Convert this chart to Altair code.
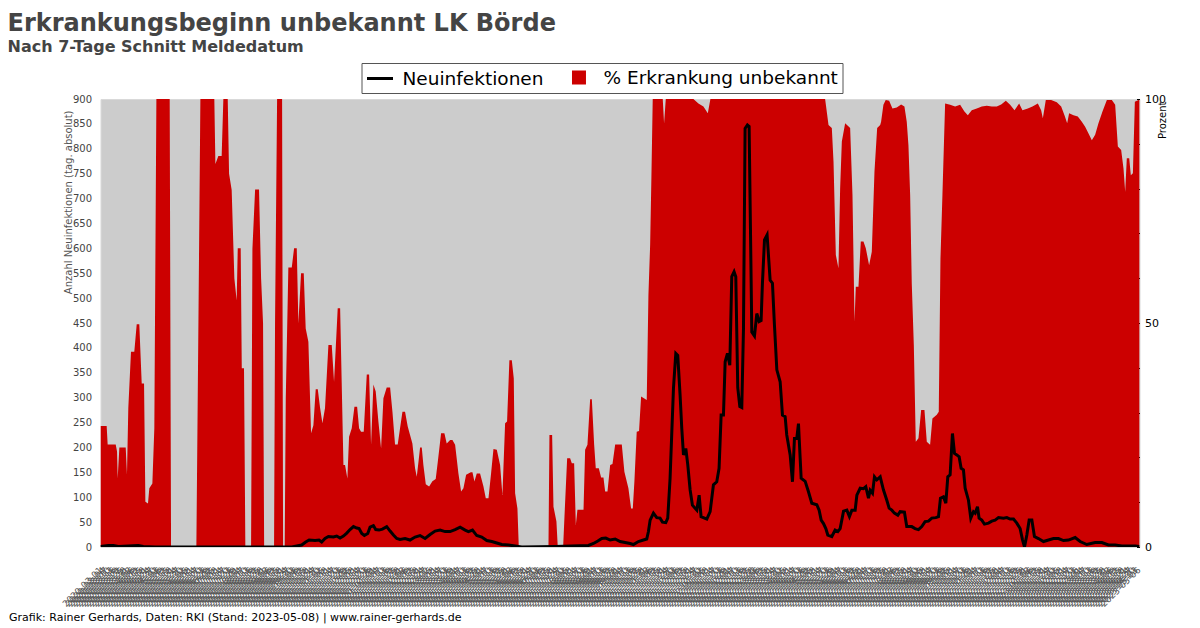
import altair as alt
import pandas as pd

START = "2020-03-01"
END = "2023-05-07"

# % Erkrankungsbeginn unbekannt (right axis), day offset from START
red_day = [0, 1.3, 6.9, 8.0, 17.0, 18.5, 19.2, 21.1, 28.2, 29.6, 31.1, 34.1, 37.8, 40.5, 43.4, 46.1, 48.7,
           50.2, 53.1, 54.6, 58.0, 60.2, 62.5, 77.4, 78.9, 107.2, 109.5, 111.7, 127.3, 128.5, 131.8, 135.5,
           137.4, 142.3, 143.8, 146.7, 149.7, 152.3, 153.5, 156.8, 158.0, 160.5, 162.0, 168.4, 169.9, 172.9,
           177.3, 179.6, 181.8, 183.0, 194.1, 195.2, 197.5, 203.1, 204.2, 206.0, 207.2, 210.1, 213.9, 216.5,
           219.5, 221.3, 224.3, 227.3, 229.5, 232.5, 235.5, 238.1, 240.7, 243.0, 245.6, 248.2, 251.1, 254.9,
           258.6, 261.2, 265.3, 268.0, 271.7, 273.5, 276.1, 278.0, 281.0, 284.0, 287.0, 289.2, 291.4, 294.4,
           297.8, 300.4, 302.6, 305.2, 307.8, 310.8, 313.8, 316.4, 320.1, 323.9, 326.5, 329.4, 332.4, 335.0,
           337.7, 340.6, 343.6, 346.2, 348.8, 351.8, 353.7, 355.6, 357.4, 359.3, 361.1, 363.8, 367.5, 371.2,
           374.9, 377.2, 380.9, 384.6, 387.2, 391.0, 393.6, 396.6, 400.3, 403.3, 405.9, 408.9, 414.1, 416.0,
           418.2, 420.8, 424.5, 428.3, 430.9, 433.9, 436.8, 439.5, 443.2, 446.9, 449.5, 452.5, 454.7, 457.3,
           460.0, 462.2, 463.7, 466.3, 467.8, 501.0, 502.1, 505.1, 506.6, 509.9, 511.4, 517.4, 518.9, 521.9,
           525.2, 527.1, 529.7, 531.6, 533.4, 540.2, 542.0, 544.6, 547.6, 549.5, 552.1, 553.9, 557.3, 559.9,
           562.5, 564.4, 567.0, 570.0, 572.6, 575.6, 583.0, 585.9, 590.4, 593.4, 595.3, 597.1, 599.7, 602.3,
           604.6, 610.9, 612.8, 614.7, 616.1, 617.6, 628.8, 630.3, 632.2, 663.1, 668.7, 674.3, 679.2, 682.1,
           810.4, 814.2, 817.9, 819.8, 822.4, 825.3, 827.2, 829.1, 832.8, 838.4, 841.0, 843.3, 844.7, 847.7,
           850.3, 853.3, 855.9, 859.6, 862.6, 865.6, 868.6, 872.0, 873.0, 875.6, 878.2, 882.0, 885.7, 890.5,
           895.4, 899.1, 901.7, 903.6, 905.5, 907.3, 909.6, 911.8, 914.8, 917.8, 921.5, 924.1, 927.8, 930.4,
           935.3, 937.5, 939.4, 941.6, 944.6, 950.2, 955.8, 961.4, 966.2, 970.0, 974.4, 980.0, 985.6, 991.2,
           996.8, 1002.4, 1007.3, 1012.5, 1017.3, 1022.2, 1027.4, 1031.1, 1037.1, 1042.3, 1048.3, 1052.0,
           1053.9, 1057.2, 1063.2, 1069.5, 1074.4, 1078.1, 1081.1, 1083.3, 1088.2, 1093.0, 1097.5, 1101.2,
           1105.0, 1108.7, 1112.4, 1116.1, 1120.6, 1125.5, 1131.1, 1134.8, 1137.8, 1141.5, 1144.1, 1146.0,
           1147.8, 1150.5, 1152.3, 1154.6, 1156.8, 1160.9, 1162.2]
red_pct = [27.0, 27.0, 27.0, 22.9, 22.9, 21.3, 15.3, 22.2, 22.2, 16.1, 31.0, 43.6, 43.6, 49.7, 49.7, 36.5, 36.5,
           10.1, 9.7, 13.1, 14.2, 26.5, 100, 100, 0, 0, 49.9, 100, 100, 85.5, 87.3, 87.3,
           100, 100, 83.3, 79.7, 60.0, 55.0, 66.7, 66.7, 39.9, 39.9, 0, 0, 66.5, 79.8,
           79.8, 60.0, 49.9, 0, 0, 49.9, 100, 100, 0, 0, 33.2, 62.4, 62.4, 66.7,
           66.7, 49.9, 61.1, 61.1, 48.8, 45.8, 25.4, 27.2, 35.2, 35.2, 31.0, 27.6, 31.0, 45.1,
           45.1, 36.9, 53.3, 53.3, 18.3, 18.3, 15.3, 24.6, 26.5, 31.3, 31.3, 26.5, 25.7, 25.7,
           38.5, 38.5, 22.8, 36.3, 34.7, 28.0, 22.0, 33.2, 35.6, 35.6, 30.2, 22.9, 22.9, 26.5,
           30.2, 30.2, 26.9, 25.0, 23.1, 17.6, 15.7, 19.0, 22.2, 22.2, 18.3, 14.0, 13.5, 14.7,
           15.2, 19.0, 25.4, 25.4, 23.1, 23.9, 23.9, 22.8, 16.4, 12.4, 13.1, 16.1, 16.7, 16.7,
           14.6, 16.4, 16.4, 13.5, 10.9, 10.9, 16.4, 21.9, 21.7, 18.3, 11.6, 27.6, 28.0, 41.7,
           41.7, 37.6, 12.0, 8.6, 0, 0, 25.0, 25.0, 9.0, 5.7, 0, 0, 6.8, 19.8,
           19.8, 18.7, 18.7, 4.9, 8.3, 8.3, 21.7, 22.8, 33.0, 33.0, 22.8, 17.6, 17.6, 15.5,
           15.5, 12.4, 12.4, 18.3, 18.5, 22.9, 22.9, 16.8, 13.1, 8.6, 8.6, 14.6, 25.7, 25.9,
           33.6, 32.8, 56.3, 67.4, 82.3, 100, 100, 94.6, 100, 100, 99.0, 98.3, 96.8, 100,
           100, 94.2, 93.5, 86.0, 65.2, 62.2, 80.1, 90.5, 94.6, 93.5, 78.6, 50.3, 58.1, 58.1,
           68.2, 68.2, 66.7, 62.9, 65.9, 83.8, 93.5, 94.2, 94.9, 98.7, 99.8, 99.6, 97.9, 98.1,
           98.8, 98.3, 94.9, 89.7, 78.6, 58.9, 45.1, 23.5, 24.3, 30.6, 30.6, 23.5, 22.8, 28.7,
           29.5, 30.2, 64.4, 78.6, 99.0, 98.7, 98.3, 98.7, 97.2, 96.4, 97.5, 97.9, 98.3, 98.5,
           98.3, 98.3, 98.8, 99.6, 98.7, 97.5, 99.0, 97.5, 97.9, 98.3, 99.0, 97.5,
           95.7, 99.8, 99.8, 99.3, 98.3, 96.4, 94.6, 96.8, 96.4, 96.1, 94.9, 93.8,
           92.3, 90.8, 92.0, 94.6, 97.2, 99.8, 99.8, 98.7, 89.4, 88.6, 84.5, 79.3,
           86.8, 86.8, 83.0, 83.4, 99.4, 99.8, 99.8]

# Neuinfektionen (left axis), day offset from START
new_day = [0, 8.8, 14.4, 20.0, 42.3, 47.9, 61.0, 213.9, 219.5, 225.0, 229.5, 233.3, 240.0, 244.4, 247.4, 251.1,
           254.9, 260.5, 264.2, 267.9, 271.7, 275.4, 279.1, 282.9, 286.6, 289.2, 292.2, 295.1, 298.9, 301.5,
           305.2, 307.8, 311.5, 315.3, 320.1, 323.9, 327.6, 331.3, 335.0, 340.6, 346.2, 351.8, 357.4, 363.0,
           368.6, 374.2, 379.8, 385.4, 391.0, 396.6, 402.2, 407.8, 411.5, 416.0, 420.8, 426.4, 432.0, 437.6,
           443.2, 448.8, 456.2, 463.7, 471.2, 508.4, 527.1, 545.7, 551.3, 556.2, 560.6, 565.1, 570.0, 575.6,
           581.1, 586.7, 592.3, 596.0, 601.6, 607.2, 610.9, 612.8, 614.7, 618.4, 622.1, 625.8, 628.5, 632.2,
           634.4, 637.0, 640.8, 643.4, 645.6, 648.2, 650.1, 652.0, 654.6, 656.8, 659.4, 662.0, 666.9, 669.5,
           671.7, 678.1, 681.8, 685.5, 689.2, 691.8, 694.1, 696.7, 698.6, 701.2, 703.8, 706.0, 708.6, 710.5,
           712.7, 715.0, 717.2, 719.1, 720.9, 723.5, 725.4, 726.9, 728.4, 731.4, 734.0, 736.6, 738.8, 740.3,
           742.6, 745.5, 748.9, 751.5, 753.7, 756.4, 760.1, 762.7, 765.7, 767.5, 771.3, 773.9, 776.1, 778.7,
           780.6, 782.5, 783.6, 788.1, 791.8, 795.5, 801.1, 803.7, 806.0, 808.6, 811.2, 813.4, 817.9, 821.6,
           824.6, 827.2, 831.0, 834.7, 837.6, 840.3, 844.0, 845.9, 849.6, 853.3, 855.9, 858.9, 860.8, 863.4,
           865.6, 868.2, 872.0, 875.6, 879.4, 882.0, 885.0, 887.9, 891.7, 894.3, 899.1, 901.7, 907.3, 911.0,
           914.8, 918.5, 922.2, 926.0, 929.7, 934.2, 937.2, 939.4, 942.7, 945.4, 947.6, 950.2, 952.8, 955.1,
           957.7, 960.3, 962.5, 965.1, 967.0, 970.7, 973.3, 976.3, 978.2, 980.8, 982.6, 985.6, 988.6, 993.1,
           996.8, 1000.5, 1004.3, 1009.9, 1013.6, 1017.3, 1021.1, 1024.8, 1028.5, 1031.1, 1033.4, 1036.0,
           1038.6, 1041.6, 1044.5, 1049.0, 1054.6, 1060.2, 1065.8, 1071.4, 1077.0, 1082.6, 1090.0, 1095.6,
           1103.1, 1112.4, 1119.9, 1127.3, 1134.8, 1142.3, 1149.7, 1157.2, 1162.0]
new_cases = [1, 3, 3, 1, 3, 1, 0, 0, 2, 4, 10, 14, 13, 14, 10, 17,
             21, 20, 22, 18, 22, 28, 35, 41, 38, 37, 27, 23, 27, 40,
             43, 35, 34, 36, 41, 32, 24, 17, 15, 17, 14, 20, 23, 17,
             25, 32, 34, 31, 31, 35, 40, 34, 31, 34, 23, 20, 13, 11,
             8, 5, 4, 2, 0, 1, 2, 3, 7, 12, 17, 18, 14, 16,
             11, 9, 7, 5, 11, 14, 16, 31, 54, 68, 59, 58, 50, 49,
             58, 138, 319, 389, 385, 305, 238, 185, 198, 165, 115, 84, 74, 104,
             61, 56, 71, 125, 131, 158, 265, 265, 372, 389, 365, 543, 553, 543,
             320, 282, 280, 439, 841, 848, 845, 640, 432, 424, 469, 453, 455, 530,
             617, 627, 536, 530, 447, 356, 332, 265, 262, 225, 185, 131, 218, 218,
             248, 178, 138, 132, 111, 88, 85, 74, 54, 47, 37, 24, 21, 34,
             31, 37, 72, 74, 61, 74, 74, 104, 118, 117, 121, 98, 114, 108,
             141, 135, 141, 115, 94, 78, 74, 68, 64, 71, 70, 41, 41, 37,
             35, 41, 51, 52, 58, 59, 61, 98, 101, 88, 141, 145, 228, 188,
             185, 181, 158, 155, 118, 94, 58, 71, 68, 81, 58, 54, 46, 48,
             52, 54, 59, 58, 59, 56, 56, 48, 37, 15, 0, 24,
             54, 54, 21, 17, 11, 14, 17, 17, 13, 14, 19, 11,
             5, 9, 9, 4, 4, 2, 2, 2, 1]

SERIES = ["Neuinfektionen", "% Erkrankung unbekannt"]
COLORS = ["#000000", "#cc0000"]
# legend key shapes: a short line and a small square
SHAPES = ["M-1,0H1.89", "M-0.39,-0.61H0.83V0.61H-0.39Z"]
FOOTER = "Grafik: Rainer Gerhards, Daten: RKI (Stand: 2023-05-08) | www.rainer-gerhards.de"

t0 = pd.Timestamp(START)
red = pd.DataFrame({"date": t0 + pd.to_timedelta(red_day, unit="D"), "wert": red_pct, "serie": SERIES[1]})
new = pd.DataFrame({"date": t0 + pd.to_timedelta(new_day, unit="D"), "wert": new_cases, "serie": SERIES[0]})

tick_dates = pd.date_range(START, END, freq="3D")
tick_values = [alt.DateTime(year=d.year, month=d.month, date=d.day) for d in tick_dates]
t_end = pd.Timestamp(END)
x_scale = alt.Scale(domain=[alt.DateTime(year=t0.year, month=t0.month, date=t0.day),
                            alt.DateTime(year=t_end.year, month=t_end.month, date=t_end.day)])

FONT = "DejaVu Sans"

x_enc = alt.X("date:T", scale=x_scale, axis=alt.Axis(
    values=tick_values, format="%Y-%m-%d", labelAngle=-45, labelAlign="right", labelBaseline="middle",
    labelFontSize=9, labelColor="#555555", labelPadding=21, labelOverlap=False, labelFlush=False,
    ticks=False, domain=False, grid=False,
    title=FOOTER, titleFontSize=11, titleFontWeight="normal", titleColor="#000000",
    titleAnchor="start", titleAlign="left", titleBaseline="alphabetic", titleX=-92, titleY=73))


def make_legend():
    return alt.Legend(
        orient="none", legendX=261, legendY=-36, direction="horizontal", title=None,
        labelFontSize=18.5, labelFont=FONT, labelColor="#000000", labelOffset=16, labelLimit=500,
        symbolSize=324, symbolStrokeWidth=3, symbolOpacity=1, columnPadding=23, padding=4,
        strokeColor="#555555", fillColor="#ffffff")


fill_scale = alt.Scale(domain=SERIES, range=COLORS)
stroke_scale = alt.Scale(domain=SERIES, range=COLORS)
shape_scale = alt.Scale(domain=SERIES, range=SHAPES)

area = alt.Chart(red).mark_area(interpolate="linear", clip=True, opacity=1).encode(
    x=x_enc,
    y=alt.Y("wert:Q", scale=alt.Scale(domain=[0, 100], nice=False), axis=alt.Axis(
        orient="right", values=list(range(0, 101, 10)),
        labelExpr="datum.value % 50 === 0 ? datum.label : ''",
        offset=-3, tickSize=3, tickColor="#000000", tickWidth=1, domain=False, grid=False,
        labelFontSize=11, labelColor="#000000", labelPadding=5,
        title="Prozent", titleFontSize=10, titleFontWeight="normal", titleColor="#000000",
        titleAngle=-90, titleAlign="right", titleBaseline="alphabetic", titleX=29, titleY=2)),
    fill=alt.Fill("serie:N", scale=fill_scale, legend=make_legend()),
)

line = alt.Chart(new).mark_line(strokeWidth=3, clip=True, interpolate="linear").encode(
    x=x_enc,
    y=alt.Y("wert:Q", scale=alt.Scale(domain=[0, 900], nice=False), axis=alt.Axis(
        orient="left", values=list(range(0, 901, 50)),
        ticks=False, domain=False, grid=False,
        labelFontSize=10, labelColor="#444444", labelPadding=9,
        title="Anzahl Neuinfektionen (tag. absolut)", titleFontSize=10, titleFontWeight="normal",
        titleColor="#555555", titleAngle=-90, titleAlign="right", titleBaseline="bottom",
        titleX=-27, titleY=11)),
    stroke=alt.Stroke("serie:N", scale=stroke_scale, legend=make_legend()),
)

# invisible layer that only supplies the legend symbol shapes
keys = alt.Chart(new).mark_point(filled=True).encode(
    shape=alt.Shape("serie:N", scale=shape_scale, legend=make_legend()),
    fill=alt.Fill("serie:N", scale=fill_scale, legend=make_legend()),
    stroke=alt.Stroke("serie:N", scale=stroke_scale, legend=make_legend()),
).transform_filter("false")

chart = alt.layer(area, line, keys).resolve_scale(y="independent").properties(
    width=1039, height=448,
    autosize=alt.AutoSizeParams(type="none"),
    padding={"left": 92.5, "top": 91, "right": 52.5, "bottom": 77},
    background="#ffffff",
    view=alt.ViewBackground(fill="#cccccc", stroke="#d9d9d9", strokeWidth=1),
    title=alt.TitleParams(
        text="Erkrankungsbeginn unbekannt LK Börde",
        subtitle="Nach 7-Tage Schnitt Meldedatum",
        anchor="start", frame="group", dx=-93, offset=8,
        font=FONT, fontSize=24, fontWeight="bold", color="#444444",
        subtitleFont=FONT, subtitleFontSize=16, subtitleFontWeight="bold", subtitleColor="#444444",
        subtitlePadding=3),
).configure(font=FONT).configure_view(fill="#cccccc", stroke="#d9d9d9", strokeWidth=1)

chart.save("out.html", embed_options={"renderer": "svg", "actions": False})
